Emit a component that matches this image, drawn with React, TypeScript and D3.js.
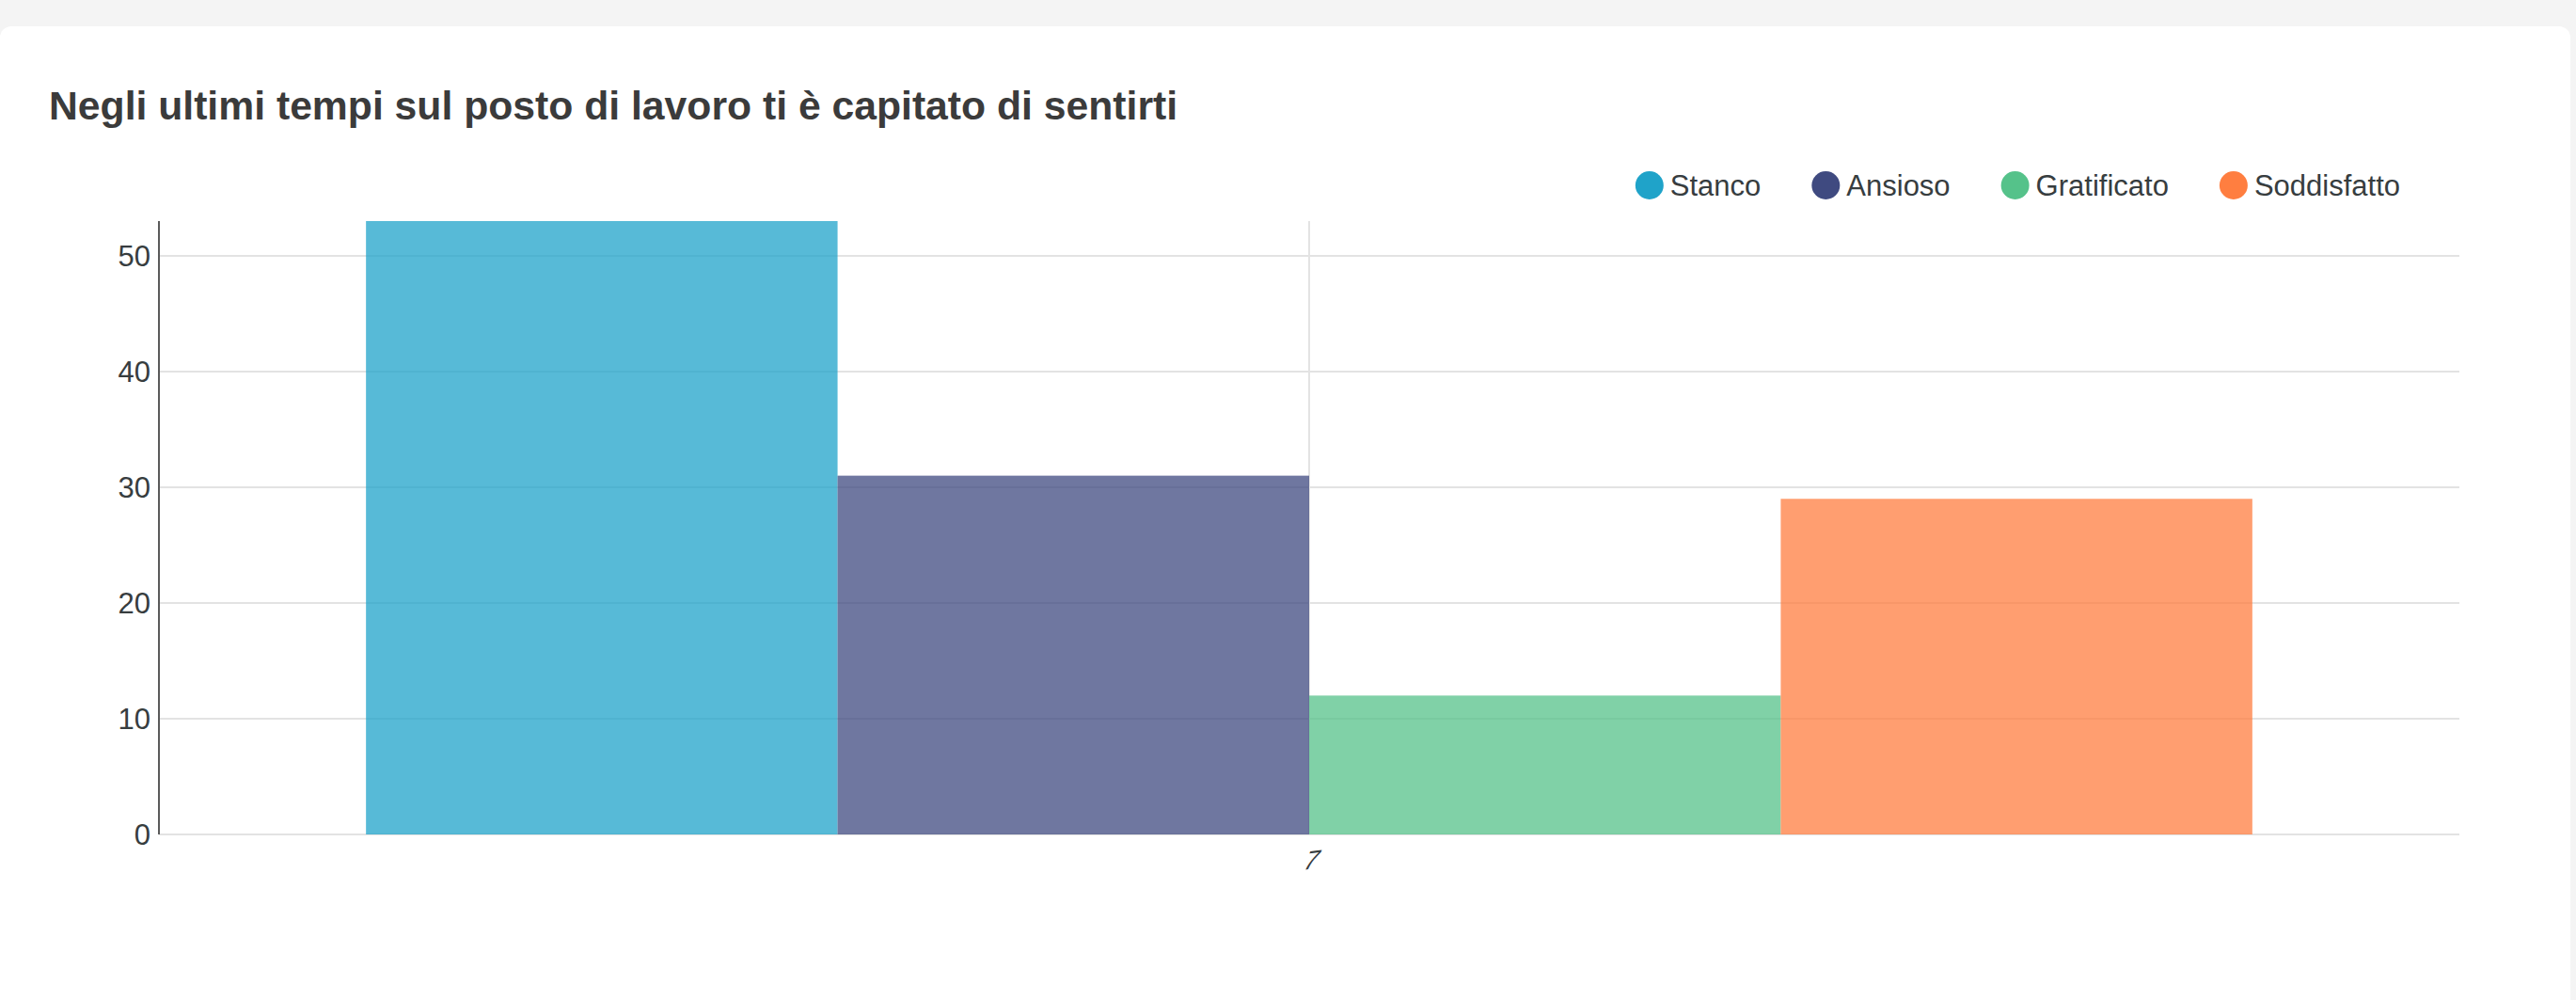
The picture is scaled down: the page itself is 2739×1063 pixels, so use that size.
import React from 'react';
import * as d3 from 'd3';

const categories = ['7'];
const seriesNames = ['Stanco', 'Ansioso', 'Gratificato', 'Soddisfatto'];
const seriesValues = [53, 31, 12, 29];
const seriesColors = ['#1fa3c9', '#3f4a80', '#55c28a', '#ff7e40'];
const yTicks = [0, 10, 20, 30, 40, 50];
const titleText = 'Negli ultimi tempi sul posto di lavoro ti è capitato di sentirti';

const W = 2739;
const H = 1063;
const FONT = '"Liberation Sans", Arial, Helvetica, sans-serif';

function measure(text: string, font: string): number {
  if (typeof document === 'undefined') return text.length * 16;
  const c = document.createElement('canvas');
  const ctx = c.getContext('2d');
  if (!ctx) return text.length * 16;
  ctx.font = font;
  return ctx.measureText(text).width;
}

export default function App() {
  const left = 169;
  const right = 2615;
  const top = 235;
  const bottom = 887;

  const y = d3.scaleLinear().domain([0, 53]).range([bottom, top]);
  const x0 = d3.scaleBand<string>().domain(categories).range([left, right]).paddingInner(0.18).paddingOuter(0.09);
  const x1 = d3.scaleBand<string>().domain(seriesNames).range([0, x0.bandwidth()]).padding(0);

  const legendFontSize = 31;
  const legendFont = `${legendFontSize}px ${FONT}`;
  const r = 15;
  const textGap = 7;
  const itemGap = 54;
  const widths = seriesNames.map((s) => measure(s, legendFont));
  const itemW = widths.map((w) => 2 * r + textGap + w);
  const totalW = itemW.reduce((a, b) => a + b, 0) + itemGap * (seriesNames.length - 1);
  const legendRight = 2552;
  let cursor = legendRight - totalW;
  const legendItems = seriesNames.map((s, i) => {
    const xs = cursor;
    cursor += itemW[i] + itemGap;
    return { name: s, x: xs, color: seriesColors[i] };
  });
  const legendY = 197;

  return (
    <div style={{ position: 'absolute', left: 0, top: 0, width: W, height: H, background: '#f4f4f4' }}>
      <svg width={W} height={H} style={{ display: 'block' }}>
        <rect x={0} y={28} width={2733} height={H} rx={12} ry={12} fill="#ffffff" />
        <text x={52} y={127} fontFamily={FONT} fontWeight={700} fontSize={42.7} fill="#3b3b3b">
          {titleText}
        </text>

        {legendItems.map((it) => (
          <g key={it.name}>
            <circle cx={it.x + r} cy={legendY} r={r} fill={it.color} />
            <text x={it.x + 2 * r + textGap} y={legendY} dy="0.35em" fontFamily={FONT} fontSize={legendFontSize} fill="#373d3f">
              {it.name}
            </text>
          </g>
        ))}

        {yTicks.map((t) => (
          <line key={'g' + t} x1={left} x2={right} y1={y(t)} y2={y(t)} stroke="#e3e3e3" strokeWidth={2} />
        ))}
        {categories.map((c) => (
          <line key={'v' + c} x1={x0(c)! + x0.bandwidth() / 2} x2={x0(c)! + x0.bandwidth() / 2} y1={top} y2={bottom} stroke="#e3e3e3" strokeWidth={2} />
        ))}

        {categories.map((c) => (
          <g key={'bars' + c} transform={`translate(${x0(c)},0)`}>
            {seriesNames.map((s, i) => (
              <rect
                key={s}
                x={x1(s)}
                y={y(seriesValues[i])}
                width={x1.bandwidth()}
                height={y(0) - y(seriesValues[i])}
                fill={seriesColors[i]}
                fillOpacity={0.75}
              />
            ))}
          </g>
        ))}

        <line x1={left} x2={left} y1={top} y2={bottom} stroke="#5a5a5a" strokeWidth={2} />

        {yTicks.map((t) => (
          <text key={'t' + t} x={left - 9} y={y(t)} dy="0.35em" textAnchor="end" fontFamily={FONT} fontSize={legendFontSize} fill="#373d3f">
            {t}
          </text>
        ))}

        {categories.map((c) => {
          const cx = x0(c)! + x0.bandwidth() / 2;
          return (
            <text key={'x' + c} transform={`translate(${cx - 1},${bottom + 37}) rotate(-7) skewX(-30)`} textAnchor="middle" fontFamily={FONT} fontSize={27} fill="#373d3f">
              {c}
            </text>
          );
        })}
      </svg>
    </div>
  );
}
